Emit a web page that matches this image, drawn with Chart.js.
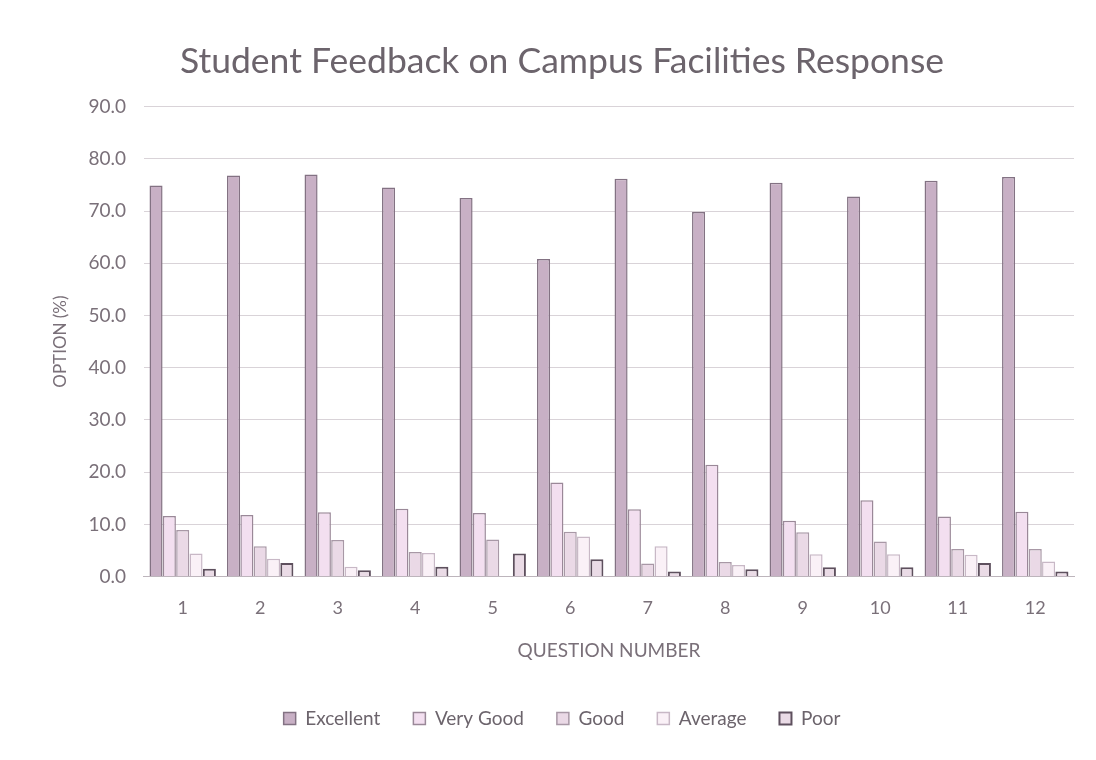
<!DOCTYPE html>
<html lang="en">
  <head>
    <meta charset="UTF-8" />
    <title>Student Feedback on Campus Facilities Response</title>
    <script src="https://cdn.jsdelivr.net/npm/chart.js"></script>
    <style>
      html,
      body {
        margin: 0;
        padding: 0;
        background: #ffffff;
      }
      .wrap {
        width: 1096px;
        height: 760px;
        position: relative;
      }
    </style>
  </head>
  <body>
    <div class="wrap">
      <canvas id="myChart"></canvas>
    </div>
    <script>
      // data
      const questions = ["1", "2", "3", "4", "5", "6", "7", "8", "9", "10", "11", "12"];
      const excellent = [74.9, 76.8, 77.0, 74.5, 72.5, 60.8, 76.2, 69.8, 75.4, 72.8, 75.8, 76.5];
      const veryGood = [11.6, 11.8, 12.3, 13.0, 12.2, 18.0, 12.9, 21.4, 10.7, 14.6, 11.5, 12.4];
      const good = [8.9, 5.8, 7.0, 4.7, 7.1, 8.6, 2.5, 2.8, 8.5, 6.7, 5.3, 5.3];
      const average = [4.4, 3.4, 1.9, 4.5, 0.0, 7.7, 5.8, 2.2, 4.3, 4.3, 4.2, 2.9];
      const poor = [1.5, 2.6, 1.2, 1.9, 4.4, 3.3, 1.0, 1.4, 1.8, 1.8, 2.6, 1.0];
      const yTicks = [0, 10, 20, 30, 40, 50, 60, 70, 80, 90];

      const textColor = "#7a7079";
      const fontFamily = "Lato, 'Open Sans', sans-serif";

      const ctx = document.getElementById("myChart").getContext("2d");

      new Chart(ctx, {
        type: "bar",
        data: {
          labels: questions,
          datasets: [
            {
              label: "Excellent",
              data: excellent,
              backgroundColor: "#c8b0c5",
              borderColor: "#837283",
              borderWidth: 1.5,
            },
            {
              label: "Very Good",
              data: veryGood,
              backgroundColor: "#f3dff0",
              borderColor: "#9a8898",
              borderWidth: 1.5,
            },
            {
              label: "Good",
              data: good,
              backgroundColor: "#ead9e6",
              borderColor: "#a898a6",
              borderWidth: 1.5,
            },
            {
              label: "Average",
              data: average,
              backgroundColor: "#faf1f7",
              borderColor: "#c8b8c6",
              borderWidth: 1.5,
            },
            {
              label: "Poor",
              data: poor,
              backgroundColor: "#eadbe6",
              borderColor: "#5e505e",
              borderWidth: 2,
            },
          ],
        },
        options: {
          responsive: true,
          maintainAspectRatio: false,
          animation: false,
          layout: {
            padding: { left: 50, right: 22, top: 0, bottom: 22 },
          },
          datasets: {
            bar: {
              categoryPercentage: 0.86,
              barPercentage: 0.98,
            },
          },
          plugins: {
            title: {
              display: true,
              text: "Student Feedback on Campus Facilities Response",
              color: "#6c646c",
              font: { family: fontFamily, size: 35.5, weight: "normal" },
              padding: { top: 40, bottom: 24 },
            },
            legend: {
              position: "bottom",
              labels: {
                color: "#6c646c",
                font: { family: fontFamily, size: 19 },
                boxWidth: 12,
                boxHeight: 12,
                padding: 33,
              },
            },
            tooltip: { enabled: false },
          },
          scales: {
            x: {
              grid: { display: false },
              border: { color: "#bdb5bc" },
              ticks: {
                color: textColor,
                font: { family: fontFamily, size: 18 },
                padding: 13,
              },
              title: {
                display: true,
                text: "QUESTION NUMBER",
                color: textColor,
                font: { family: fontFamily, size: 19 },
                padding: { top: 7, bottom: 14 },
              },
            },
            y: {
              min: 0,
              max: 90,
              afterBuildTicks: (axis) => {
                axis.ticks = yTicks.map((v) => ({ value: v }));
              },
              grid: { color: "#d9d3d8", drawTicks: false },
              border: { display: false },
              ticks: {
                color: textColor,
                font: { family: fontFamily, size: 19 },
                padding: 18,
                callback: (v) => Number(v).toFixed(1),
              },
              title: {
                display: true,
                text: "OPTION (%)",
                color: textColor,
                font: { family: fontFamily, size: 17 },
                padding: { top: 0, bottom: 0 },
              },
            },
          },
        },
      });
    </script>
  </body>
</html>
